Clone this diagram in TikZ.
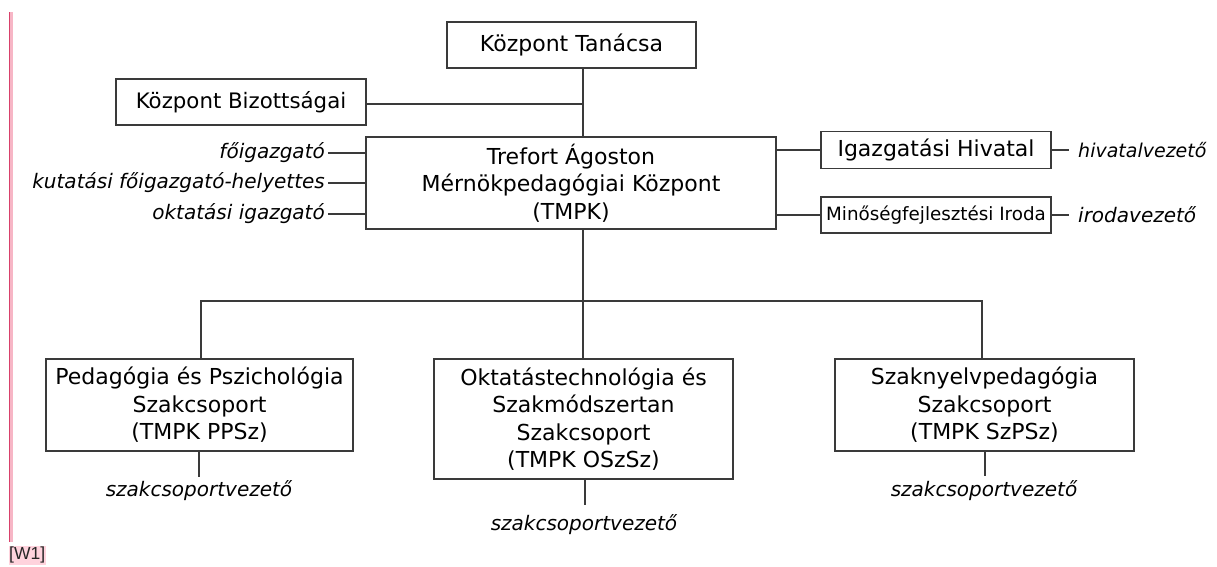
\documentclass[tikz,border=0pt]{standalone}
\usepackage{fontspec}
\setmainfont{DejaVu Sans}
\newfontfamily\wfont{Liberation Sans}
\definecolor{pinkline}{HTML}{D8406A}
\definecolor{pinkbg}{HTML}{FFD3DD}
\definecolor{boxline}{HTML}{3A3A3A}
\begin{document}
\begin{tikzpicture}[x=1pt,y=-1pt,
  box/.style={draw=boxline,line width=1.6pt,inner sep=0pt,align=center,
    font=\fontsize{22}{27.5}\selectfont},
  role/.style={inner sep=0pt,font=\fontsize{20}{25}\selectfont\itshape},
  link/.style={draw=boxline,line width=1.6pt}]
\useasboundingbox (0,0) rectangle (1217,566);
% left margin line and tag
\draw[pinkbg!80!pinkline,line width=4pt] (11,12) -- (11,542);
\draw[pinkline,line width=1.2pt] (9.3,12) -- (9.3,542);
\node[fill=pinkbg,inner xsep=0.5pt,inner ysep=1pt,anchor=north west,font=\wfont\fontsize{17.5}{17.5}\selectfont,text=black!85] (w1) at (8.5,546) {[W1]};
% boxes
\node[box,minimum width=249pt,minimum height=46pt] (tan) at (571.5,45) {Központ Tanácsa};
\node[box,minimum width=250pt,minimum height=46pt,font=\fontsize{21.3}{26}\selectfont] (biz) at (241,102) {Központ Bizottságai};
\node[box,minimum width=410pt,minimum height=92pt] (tmpk) at (571,183) {Trefort Ágoston\\Mérnökpedagógiai Központ\\(TMPK)};
\node[box,minimum width=230pt,minimum height=37pt] (igh) at (936,150) {Igazgatási Hivatal};
\node[box,minimum width=230pt,minimum height=36pt,font=\fontsize{18.3}{22}\selectfont] (mir) at (936,215) {Minőségfejlesztési Iroda};
\node[box,minimum width=307pt,minimum height=92pt] (pps) at (199.5,405) {Pedagógia és Pszichológia\\Szakcsoport\\(TMPK PPSz)};
\node[box,minimum width=299pt,minimum height=120pt] (osz) at (583.5,419) {Oktatástechnológia és\\Szakmódszertan\\Szakcsoport\\(TMPK OSzSz)};
\node[box,minimum width=299pt,minimum height=92pt] (szp) at (984.5,405) {Szaknyelvpedagógia\\Szakcsoport\\(TMPK SzPSz)};
% roles
\node[role,anchor=east] (r1) at (325,153) {főigazgató};
\node[role,anchor=east] (r2) at (325,183) {kutatási főigazgató-helyettes};
\node[role,anchor=east] (r3) at (325,214) {oktatási igazgató};
\node[role,anchor=west,font=\fontsize{19}{24}\selectfont\itshape] (r4) at (1078,150) {hivatalvezető};
\node[role,anchor=west] (r5) at (1078,215) {irodavezető};
\node[role] (r6) at (199,491) {szakcsoportvezető};
\node[role] (r7) at (584,525) {szakcsoportvezető};
\node[role] (r8) at (984,491) {szakcsoportvezető};
% connectors
\coordinate (jb) at (583,104);
\coordinate (bus) at (583,301);
\draw[link] (tan.south -| jb) -- (tmpk.north -| jb);
\draw[link] (biz.east |- jb) -- (jb);
\draw[link] (r1.east) ++(3,0) -- (tmpk.west |- r1);
\draw[link] (r2.east) ++(3,0) -- (tmpk.west |- r2);
\draw[link] (r3.east) ++(3,0) -- (tmpk.west |- r3);
\draw[link] (tmpk.east |- igh) -- (igh.west);
\draw[link] (tmpk.east |- mir) -- (mir.west);
\draw[link] (igh.east) -- ++(17,0);
\draw[link] (mir.east) -- ++(17,0);
\draw[link] (tmpk.south -| bus) -- (osz.north -| bus);
\draw[link] (pps.north -| 201,0) -- (201,301) -- (982,301) -- (szp.north -| 982,0);
\draw[link] (pps.south -| 199,0) -- (199,477);
\draw[link] (osz.south -| 585,0) -- (585,505);
\draw[link] (szp.south -| 985,0) -- (985,476);
\end{tikzpicture}
\end{document}
